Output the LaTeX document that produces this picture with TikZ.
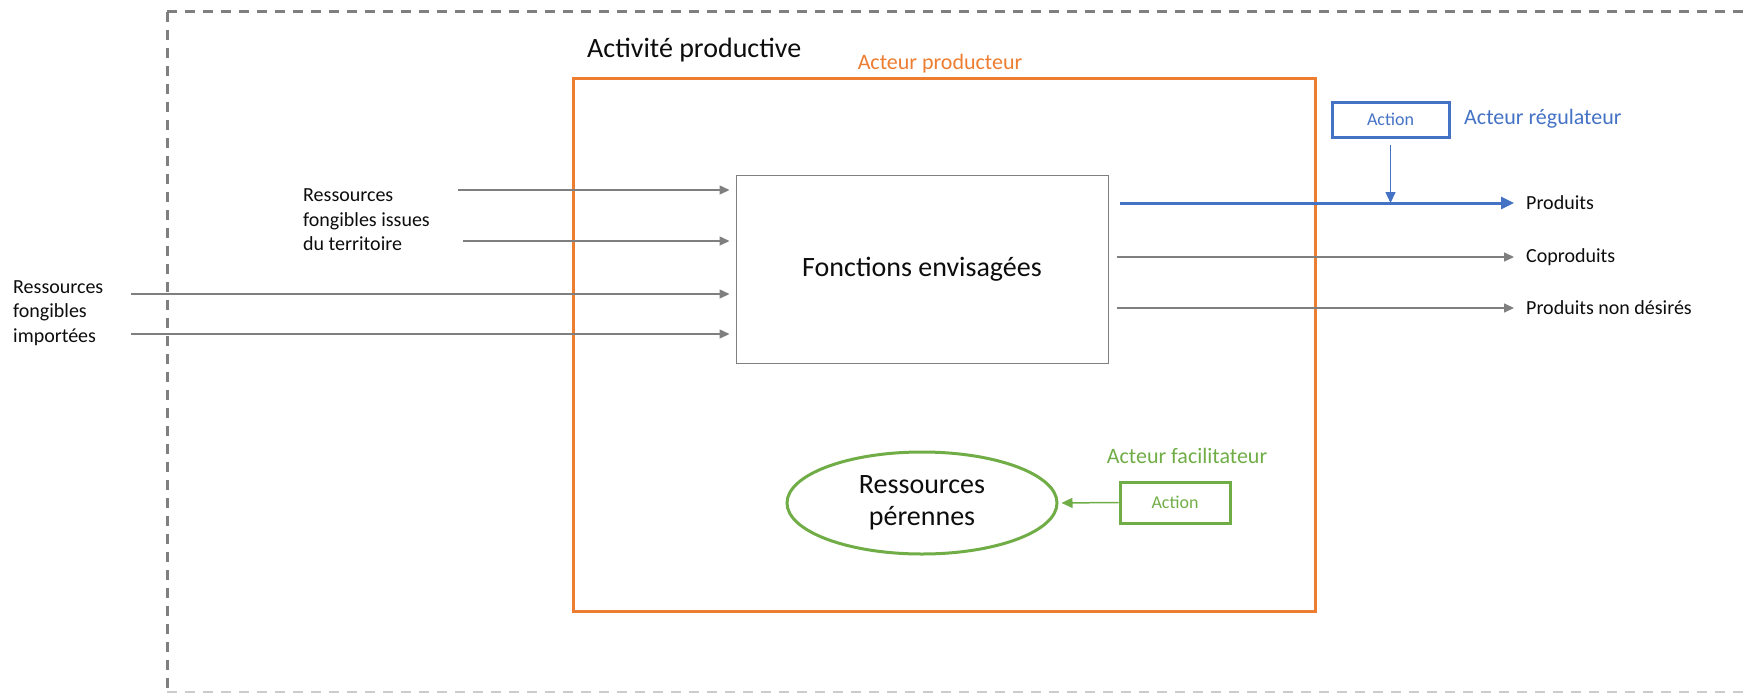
\documentclass[tikz,border=0pt]{standalone}
\usepackage{fontspec}
\setmainfont{Carlito}
\usetikzlibrary{arrows.meta,shapes.geometric}
\definecolor{orng}{HTML}{ED7D31}
\definecolor{blu}{HTML}{4472C4}
\definecolor{grn}{HTML}{70AD47}
\definecolor{gry}{HTML}{7F7F7F}
\definecolor{txt}{HTML}{0D0D0D}
\newcommand{\fsmall}{\fontsize{20}{24.5}\selectfont}
\newcommand{\fbig}{\fontsize{28}{32}\selectfont}
\newcommand{\factor}{\fontsize{22}{26}\selectfont}
\newcommand{\faction}{\fontsize{18}{22}\selectfont}
\tikzset{
  lbl/.style={inner sep=0pt, text=txt, font=\fsmall, align=left},
  garrow/.style={draw=gry, line width=1.5pt, -{Triangle[length=10pt,width=9pt]}},
  actbox/.style={draw, line width=3pt, font=\faction, inner sep=0pt},
}
\begin{document}
\begin{tikzpicture}[x=1pt,y=-1pt]
\useasboundingbox (0,0) rectangle (1744,693);
\begin{scope}
\clip (0,0) rectangle (1744,693);
\draw[gry, line width=3pt, dash pattern=on 10pt off 8pt] (167,12) -- (1760,12);
\draw[gry, line width=3pt, dash pattern=on 10pt off 8pt] (167,12) -- (167,693);
\draw[gry!40, line width=2pt, dash pattern=on 10pt off 8pt] (167,692) -- (1760,692);
\end{scope}
% titles
\node[anchor=west, inner sep=0pt, text=txt, font=\fbig] (act) at (587,50) {Activité productive};
% orange box
\node[draw=orng, line width=3pt, minimum width=742pt, minimum height=533pt, inner sep=0pt] (prod) at (944,344.5) {};
\node[text=orng, font=\factor, inner sep=0pt] (prodlbl) at (940,64) {Acteur producteur};
% functions box
\node[draw=gry, line width=1pt, minimum width=372pt, minimum height=188pt, text=txt, font=\fbig] (fonc) at (922,269) {Fonctions envisagées};
% input labels
\node[lbl, anchor=west] (terr) at (303,220) {Ressources\\fongibles issues\\du territoire};
\node[lbl, anchor=west] (imp) at (13,313) {Ressources\\fongibles\\importées};
\coordinate (i1) at (458,190);
\coordinate (i2) at (463,241);
\coordinate (i3) at (131,294);
\coordinate (i4) at (131,334);
\foreach \c in {i1,i2,i3,i4}
  \draw[garrow, shorten >=6pt] (\c) -- (\c -| fonc.west);
% outputs
\node[lbl, anchor=west] (o1) at (1526,203) {Produits};
\node[lbl, anchor=west] (o2) at (1526,257) {Coproduits};
\node[lbl, anchor=west] (o3) at (1526,308) {Produits non désirés};
\draw[draw=blu, line width=3pt, -{Triangle[length=13pt,width=12pt]}, shorten >=12pt] ([xshift=11pt]fonc.east |- o1) -- (o1.west);
\draw[garrow, shorten >=12pt] ([xshift=8pt]fonc.east |- o2) -- (o2.west);
\draw[garrow, shorten >=12pt] ([xshift=8pt]fonc.east |- o3) -- (o3.west);
% regulator
\node[actbox, draw=blu, text=blu, minimum width=117pt, minimum height=35pt] (ract) at (1390.5,119.5) {Action};
\node[anchor=west, text=blu, font=\factor, inner sep=0pt] (rlbl) at (1464,119) {Acteur régulateur};
\coordinate (rhit) at (ract.south |- o1);
\draw[draw=blu, line width=1.5pt, -{Triangle[length=11pt,width=10pt]}, shorten <=6pt] (ract.south) -- (rhit);
% perennial resources
\node[ellipse, draw=grn, line width=3pt, minimum width=270pt, minimum height=102pt, text=txt, font=\fbig, align=center, inner sep=0pt] (per) at (922,503) {Ressources\\pérennes};
\node[actbox, draw=grn, text=grn, minimum width=110pt, minimum height=41pt] (fact) at (1175,502.5) {Action};
\node[text=grn, font=\factor, inner sep=0pt] (flbl) at (1187,456) {Acteur facilitateur};
\draw[draw=grn, line width=1.5pt, -{Triangle[length=11pt,width=10pt]}, shorten >=3pt] (fact.west) -- (per.east);
\end{tikzpicture}
\end{document}
